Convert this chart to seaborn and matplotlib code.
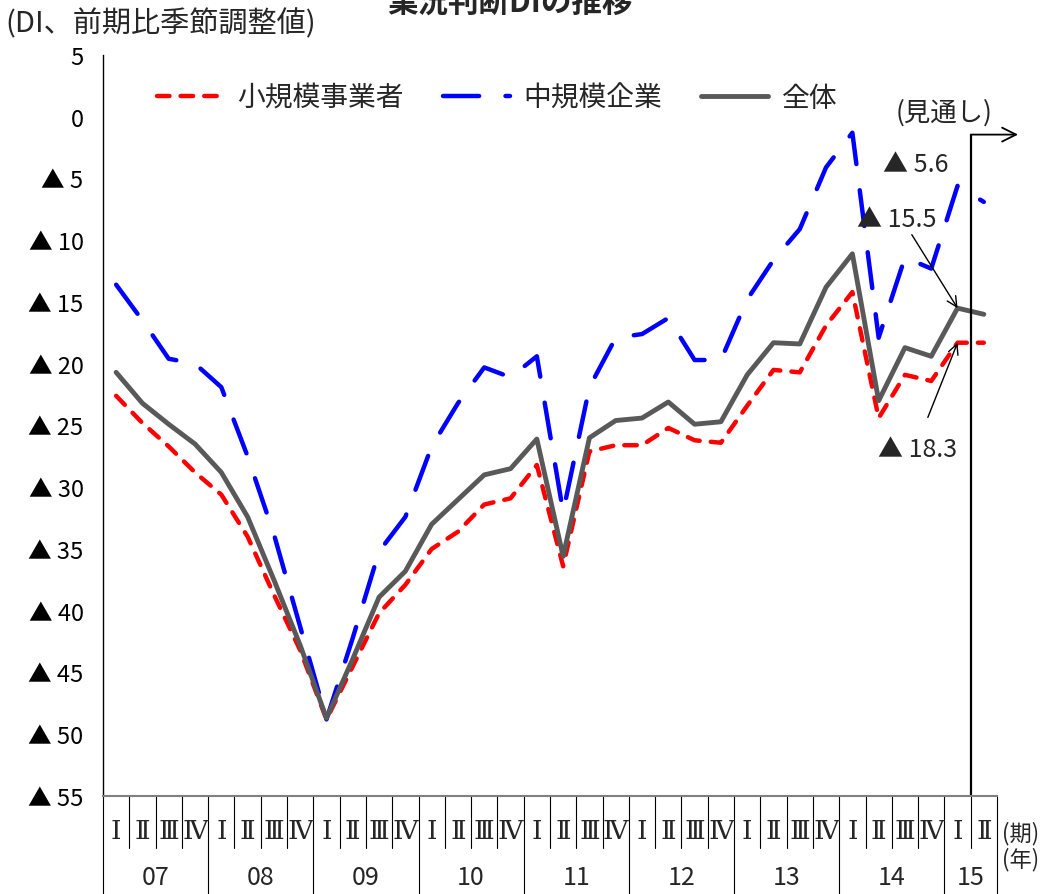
import numpy as np
import matplotlib
matplotlib.use("Agg")
import matplotlib.pyplot as plt
import matplotlib.transforms as mtransforms
import seaborn as sns

# --- data (07 I .. 15 II) ---
years = ["07", "08", "09", "10", "11", "12", "13", "14", "15"]
quarters_per_year = [4, 4, 4, 4, 4, 4, 4, 4, 2]
quarter_names = ["Ⅰ", "Ⅱ", "Ⅲ", "Ⅳ"]

small_biz = [-22.6, -24.8, -26.7, -28.8, -30.6, -34.0, -38.7, -43.2,
             -48.8, -44.5, -40.2, -37.9, -35.0, -33.6, -31.4, -30.9,
             -28.2, -36.4, -27.1, -26.6, -26.6, -25.2, -26.2, -26.4,
             -23.4, -20.5, -20.7, -16.9, -14.2, -24.4, -20.9, -21.4,
             -18.3, -18.3]
mid_biz = [-13.6, -16.5, -19.6, -20.0, -21.9, -27.5, -33.8, -41.3,
           -48.8, -42.2, -35.2, -32.4, -26.7, -23.2, -20.3, -21.1,
           -19.4, -32.0, -21.9, -17.9, -17.6, -16.3, -19.7, -19.7,
           -14.8, -11.6, -9.1, -4.1, -1.3, -17.9, -11.4, -12.3,
           -5.6, -6.9]
overall = [-20.7, -23.2, -24.9, -26.5, -28.8, -32.4, -37.5, -42.8,
           -48.7, -43.9, -38.9, -36.8, -33.0, -31.0, -29.0, -28.5,
           -26.1, -35.6, -26.0, -24.6, -24.4, -23.1, -24.9, -24.7,
           -20.9, -18.3, -18.4, -13.8, -11.1, -23.0, -18.7, -19.4,
           -15.5, -16.0]

series_labels = ["小規模事業者", "中規模企業", "全体"]
y_ticks = list(range(-55, 6, 5))

# --- style ---
sns.set_style("white")
plt.rcParams["font.family"] = ["Noto Sans CJK JP", "DejaVu Sans"]
plt.rcParams["lines.scale_dashes"] = False

fig = plt.figure(figsize=(10.53, 8.95), dpi=100)
ax = fig.add_axes([0.0978, 0.1095, 0.849, 0.828])

x = np.arange(len(overall))
sns.lineplot(x=x, y=small_biz, ax=ax, color="#FF0000", linewidth=3.2,
             linestyle=(0, (9, 8)), dash_capstyle="round",
             label=series_labels[0])
sns.lineplot(x=x, y=mid_biz, ax=ax, color="#0000FF", linewidth=3.2,
             linestyle=(0, (26, 19)), dash_capstyle="round",
             label=series_labels[1])
sns.lineplot(x=x, y=overall, ax=ax, color="#595959", linewidth=3.5,
             solid_capstyle="round", label=series_labels[2])

ax.legend(loc="center", bbox_to_anchor=(497 / 1053, 1 - 99 / 895),
          bbox_transform=fig.transFigure, ncol=3, frameon=False,
          fontsize=20, handlelength=2.4, handletextpad=0.5,
          columnspacing=1.4)

# --- axes ---
ax.set_xlim(-0.5, len(overall) - 0.5)
ax.set_ylim(-55, 5)
ax.set_xticks([])
ax.set_yticks(y_ticks)
ax.set_yticklabels([f"▲ {-v}" if v < 0 else str(v) for v in y_ticks])
ax.tick_params(axis="y", direction="in", length=7, width=1, pad=14,
               labelsize=17, colors="black")
ax.set_xlabel("")
ax.set_ylabel("")
for side in ["top", "right"]:
    ax.spines[side].set_visible(False)
ax.spines["left"].set_color("black")
ax.spines["left"].set_linewidth(1)
ax.spines["bottom"].set_color("#808080")
ax.spines["bottom"].set_linewidth(1.5)

# --- two-row category axis (quarters / years) ---
trans = mtransforms.blended_transform_factory(ax.transData, ax.transAxes)
year_edges = np.cumsum([0] + quarters_per_year)
for b in range(len(overall) + 1):
    y_end = -0.132 if b in year_edges else -0.070
    ax.plot([b - 0.5, b - 0.5], [0, y_end], transform=trans, color="black",
            lw=0.8, clip_on=False)

i = 0
for yr, nq in zip(years, quarters_per_year):
    for q in range(nq):
        ax.text(i + q, -0.047, quarter_names[q], transform=trans,
                ha="center", va="center", fontsize=19,
                family=["DejaVu Serif", "Noto Sans CJK JP"])
    ax.text(i + (nq - 1) / 2, -0.109, yr, transform=trans, ha="center",
            va="center", fontsize=18)
    i += nq
ax.text(33.7, -0.049, "(期)", transform=trans, ha="left", va="center",
        fontsize=16)
ax.text(33.7, -0.084, "(年)", transform=trans, ha="left", va="center",
        fontsize=16)

# --- forecast marker ---
ax.plot([32.5, 32.5], [-55, -1.45], color="black", lw=1.6, clip_on=False)
ax.annotate("", xy=(34.3, -1.45), xytext=(32.5, -1.45),
            arrowprops=dict(arrowstyle="->", lw=1.3, color="black",
                            mutation_scale=25, shrinkA=0, shrinkB=0),
            annotation_clip=False)
ax.text(31.5, 0.4, "(見通し)", ha="center", va="center", fontsize=19)

# --- value callouts for 15 I ---
ax.text(30.41, -3.8, f"▲ {abs(mid_biz[32])}", ha="center", va="center",
        fontsize=18)
ax.text(29.69, -8.25, f"▲ {abs(overall[32])}", ha="center", va="center",
        fontsize=18)
ax.annotate("", xy=(32, overall[32]), xytext=(30.26, -9.55),
            arrowprops=dict(arrowstyle="->", lw=1, color="black",
                            shrinkA=0, shrinkB=0, mutation_scale=18))
ax.text(30.49, -26.9, f"▲ {abs(small_biz[32])}", ha="center", va="center",
        fontsize=18)
ax.annotate("", xy=(32, small_biz[32]), xytext=(30.87, -24.35),
            arrowprops=dict(arrowstyle="->", lw=1, color="black",
                            shrinkA=0, shrinkB=0, mutation_scale=18))

# --- titles ---
fig.text(510 / 1053, 1 - 3 / 895, "業況判断DIの推移", fontsize=22,
         fontweight="bold", ha="center", va="center")
fig.text(5 / 1053, 1 - 24 / 895, "(DI、前期比季節調整値)", fontsize=21,
         ha="left", va="center")

fig.savefig("out.png", dpi=100)
